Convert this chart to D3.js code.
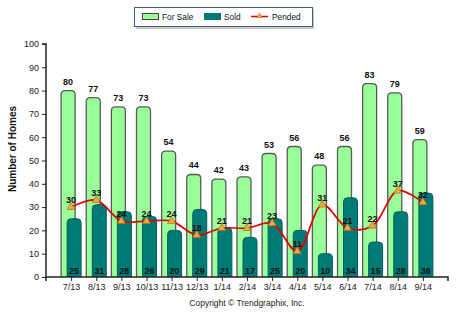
<!DOCTYPE html>
<html><head><meta charset="utf-8">
<script src="https://cdn.jsdelivr.net/npm/d3@7"></script>
<style>body{margin:0;background:#fff}svg{display:block;font-family:Arial,"Liberation Sans",sans-serif}</style>
</head><body><svg id="c" width="468" height="322"></svg>
<script>
const categories = ["7/13","8/13","9/13","10/13","11/13","12/13","1/14","2/14","3/14","4/14","5/14","6/14","7/14","8/14","9/14"];
const forSale = [80,77,73,73,54,44,42,43,53,56,48,56,83,79,59];
const sold = [25,31,28,26,20,29,21,17,25,20,10,34,15,28,36];
const pended = [30,33,24,24,24,18,21,21,23,11,31,21,22,37,32];
const yTicks = [0,10,20,30,40,50,60,70,80,90,100];

(function(){
const svg = d3.select("#c");
const mLeft = 46, mRight = 448, mTop = 44, mBottom = 277;
const x = d3.scalePoint().domain(categories).range([mLeft, mRight]).padding(1);
const y = d3.scaleLinear().domain([0,100]).range([mBottom, mTop]);
const bw = 14, off = 3;
const fs = 9;

function roundTop(x0, y0, w, h, r) {
  r = Math.min(r, h, w/2);
  return `M${x0},${y0+h}V${y0+r}Q${x0},${y0} ${x0+r},${y0}H${x0+w-r}Q${x0+w},${y0} ${x0+w},${y0+r}V${y0+h}`;
}

svg.append("g").selectAll("path").data(forSale).join("path")
  .attr("d", (d,i) => roundTop(x(categories[i]) - off - bw/2, y(d), bw, mBottom - y(d), 4))
  .attr("fill", "#99ff99").attr("stroke", "#5a5a5a").attr("stroke-width", 1.3);

svg.append("g").selectAll("path").data(sold).join("path")
  .attr("d", (d,i) => roundTop(x(categories[i]) + off - bw/2, y(d), bw, mBottom - y(d), 4))
  .attr("fill", "#007a74").attr("stroke", "#00605b").attr("stroke-width", 1);

const yAxis = svg.append("g").attr("transform", `translate(${mLeft},0)`)
  .call(d3.axisLeft(y).tickValues(yTicks).tickSize(4).tickPadding(3));
const xAxis = svg.append("g").attr("transform", `translate(0,${mBottom})`)
  .call(d3.axisBottom(x).tickSize(4).tickPadding(3));
[yAxis, xAxis].forEach(g => {
  g.select(".domain").attr("stroke", "#222").attr("stroke-width", 1.5);
  g.selectAll(".tick line").attr("stroke", "#222");
  g.selectAll("text").attr("fill", "#222").style("font-size", fs + "px").style("font-family", "Arial, 'Liberation Sans', sans-serif");
});
xAxis.select(".domain").attr("d", `M${mLeft},4V0H${mRight}V4`);
yAxis.select(".domain").attr("d", `M-4,${mTop}H0V${mBottom}`);

svg.append("g").selectAll("text").data(forSale).join("text")
  .attr("x", (d,i) => x(categories[i]) - off).attr("y", d => y(d) - 6)
  .attr("text-anchor", "middle").attr("font-size", fs).attr("font-weight", "bold").attr("fill", "#111")
  .text(d => d);
svg.append("g").selectAll("text").data(sold).join("text")
  .attr("x", (d,i) => x(categories[i]) + off).attr("y", mBottom - 3)
  .attr("text-anchor", "middle").attr("font-size", fs).attr("font-weight", "bold").attr("fill", "#111")
  .text(d => d);

const line = d3.line().x((d,i) => x(categories[i])).y(d => y(d)).curve(d3.curveCatmullRom.alpha(0.5));
svg.append("path").datum(pended).attr("d", line).attr("fill", "none").attr("stroke", "#dd0000").attr("stroke-width", 1.7);
const tri = d3.symbol().type(d3.symbolTriangle).size(28);
svg.append("g").selectAll("path").data(pended).join("path")
  .attr("transform", (d,i) => `translate(${x(categories[i])},${y(d)})`)
  .attr("d", tri).attr("fill", "#f5a742").attr("stroke", "#b06a10").attr("stroke-width", 0.7);
svg.append("g").selectAll("text").data(pended).join("text")
  .attr("x", (d,i) => x(categories[i])).attr("y", d => y(d) - 4)
  .attr("text-anchor", "middle").attr("font-size", fs).attr("font-weight", "bold").attr("fill", "#111")
  .text(d => d);

svg.append("text").attr("transform", "translate(16,149) rotate(-90)")
  .attr("text-anchor", "middle").attr("font-size", 10).attr("font-weight", "bold").attr("fill", "#111")
  .text("Number of Homes");

svg.append("text").attr("x", 247).attr("y", 306).attr("text-anchor", "middle")
  .attr("font-size", 8.5).attr("fill", "#222").text("Copyright \u00a9 Trendgraphix, Inc.");

const lg = svg.append("g");
lg.append("rect").attr("x", 136).attr("y", 9).attr("width", 178).attr("height", 20).attr("fill", "#aaa").attr("opacity", 0.6);
lg.append("rect").attr("x", 134.5).attr("y", 7.5).attr("width", 178).attr("height", 19).attr("fill", "#fff").attr("stroke", "#4a5a78").attr("stroke-width", 1);
lg.append("rect").attr("x", 142.5).attr("y", 13.5).attr("width", 16).attr("height", 6).attr("fill", "#99ff99").attr("stroke", "#444");
lg.append("text").attr("x", 162).attr("y", 19.5).attr("font-size", 8.3).attr("fill", "#111").text("For Sale");
lg.append("rect").attr("x", 204).attr("y", 13).attr("width", 17).attr("height", 7).attr("fill", "#007a74");
lg.append("text").attr("x", 224).attr("y", 19.5).attr("font-size", 8.3).attr("fill", "#111").text("Sold");
lg.append("line").attr("x1", 251).attr("x2", 268).attr("y1", 16.5).attr("y2", 16.5).attr("stroke", "#dd0000").attr("stroke-width", 1.5);
lg.append("path").attr("transform", "translate(259.5,16)").attr("d", d3.symbol().type(d3.symbolTriangle).size(12)).attr("fill", "#f5a742").attr("stroke", "#b06a10").attr("stroke-width", 0.5);
lg.append("text").attr("x", 272).attr("y", 19.5).attr("font-size", 8.3).attr("fill", "#111").text("Pended");
})();
</script></body></html>
